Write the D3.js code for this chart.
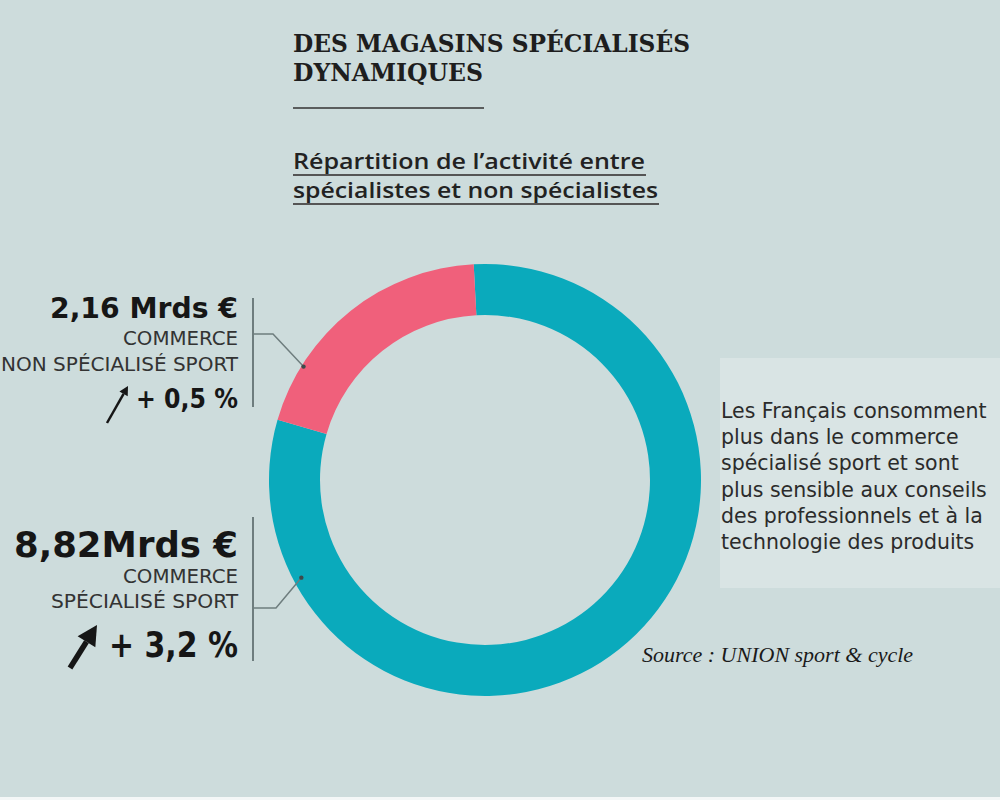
<!DOCTYPE html>
<html>
<head>
<meta charset="utf-8">
<script src="https://d3js.org/d3.v7.min.js"></script>
<style>
  body { margin: 0; background: #cddcdc; }
  svg { display: block; }
</style>
</head>
<body>
<div id="chart"></div>
<script>
// data
var segments = ["COMMERCE SPÉCIALISÉ SPORT", "COMMERCE NON SPÉCIALISÉ SPORT"];
var amounts = [8.82, 2.16];
var amountLabels = ["8,82Mrds €", "2,16 Mrds €"];
var growthLabels = ["+ 3,2 %", "+ 0,5 %"];
var labelLines = [["COMMERCE", "SPÉCIALISÉ SPORT"], ["COMMERCE", "NON SPÉCIALISÉ SPORT"]];
var colors = ["#0aaabc", "#f0607b"];

var noteLines = ["Les Français consomment", "plus dans le commerce", "spécialisé sport et sont",
  "plus sensible aux conseils", "des professionnels et à la", "technologie des produits"];

var width = 1000, height = 800;
var cx = 485, cy = 480, outerR = 216, innerR = 165;

var svg = d3.select("#chart").append("svg")
  .attr("width", width).attr("height", height);

svg.append("rect").attr("width", width).attr("height", height).attr("fill", "#cddcdc");
svg.append("rect").attr("x", 0).attr("y", 797).attr("width", width).attr("height", 3).attr("fill", "#f4f7f7");

// title
svg.append("text").attr("x", 293).attr("y", 52)
  .style("font-family", "DejaVu Serif Condensed, DejaVu Serif").style("font-weight", "bold")
  .style("font-size", "24px").attr("fill", "#1e1e1e")
  .attr("textLength", 397).attr("lengthAdjust", "spacingAndGlyphs")
  .text("DES MAGASINS SPÉCIALISÉS");
svg.append("text").attr("x", 293).attr("y", 81)
  .style("font-family", "DejaVu Serif Condensed, DejaVu Serif").style("font-weight", "bold")
  .style("font-size", "24px").attr("fill", "#1e1e1e")
  .attr("textLength", 190).attr("lengthAdjust", "spacingAndGlyphs")
  .text("DYNAMIQUES");
svg.append("line").attr("x1", 293).attr("x2", 484).attr("y1", 108).attr("y2", 108)
  .attr("stroke", "#333").attr("stroke-width", 1.5);

// subtitle
var sub = [["Répartition de l’activité entre", 169, 352], ["spécialistes et non spécialistes", 198, 365]];
sub.forEach(function(s) {
  svg.append("text").attr("x", 293).attr("y", s[1])
    .style("font-family", "Open Sans").style("font-weight", 600)
    .style("font-size", "22px").attr("fill", "#222")
    .attr("textLength", s[2]).attr("lengthAdjust", "spacingAndGlyphs")
    .text(s[0]);
  svg.append("line").attr("x1", 293).attr("x2", 293 + s[2] + 1)
    .attr("y1", s[1] + 6).attr("y2", s[1] + 6)
    .attr("stroke", "#555").attr("stroke-width", 2);
});

// donut
var pie = d3.pie().sort(null)
  .startAngle(-3 * Math.PI / 180)
  .endAngle(-3 * Math.PI / 180 + 2 * Math.PI);
var arc = d3.arc().innerRadius(innerR).outerRadius(outerR);
var arcs = pie(amounts);

var g = svg.append("g").attr("transform", "translate(" + cx + "," + cy + ")");
g.selectAll("path").data(arcs).enter().append("path")
  .attr("d", arc)
  .attr("fill", function(d, i) { return colors[i]; });

// leader lines and labels
var callouts = [
  { bar: [517, 661], elbowY: 608, elbowX: 276, angle: 242, dotR: 208 },
  { bar: [298, 407], elbowY: 334, elbowX: 273, angle: 302, dotR: 214 }
];
var textLayout = [
  { amountY: 557, amountSize: 35, amountW: 224,
    lineY: [583, 608], lineSize: 19, lineW: [115, 187],
    growthY: 657, growthSize: 35, growthW: 129,
    arrow: [70, 668, 97, 625], arrowW: 5.5 },
  { amountY: 318, amountSize: 28, amountW: 188,
    lineY: [345, 371], lineSize: 19, lineW: [115, 237],
    growthY: 408, growthSize: 27, growthW: 102,
    arrow: [107, 423, 128, 386], arrowW: 2.5 }
];

var lineColor = "#6e7d7e";
var labelFont = "DejaVu Sans Condensed, DejaVu Sans";
arcs.forEach(function(d, i) {
  var c = callouts[i];
  var a = c.angle * Math.PI / 180;
  var px = cx + Math.sin(a) * c.dotR;
  var py = cy - Math.cos(a) * c.dotR;

  svg.append("line").attr("x1", 253).attr("x2", 253).attr("y1", c.bar[0]).attr("y2", c.bar[1])
    .attr("stroke", lineColor).attr("stroke-width", 2);
  svg.append("polyline")
    .attr("points", [[253, c.elbowY], [c.elbowX, c.elbowY], [px, py]].join(" "))
    .attr("fill", "none").attr("stroke", lineColor).attr("stroke-width", 1.5);
  svg.append("circle").attr("cx", px).attr("cy", py).attr("r", 2.2).attr("fill", "#3d4a4b");

  var t = textLayout[i];
  svg.append("text").attr("x", 238).attr("y", t.amountY)
    .attr("text-anchor", "end")
    .style("font-family", labelFont).style("font-weight", "bold")
    .style("font-size", t.amountSize + "px").attr("fill", "#161616")
    .attr("textLength", t.amountW).attr("lengthAdjust", "spacingAndGlyphs")
    .text(amountLabels[i]);
  labelLines[i].forEach(function(l, j) {
    svg.append("text").attr("x", 238).attr("y", t.lineY[j])
      .attr("text-anchor", "end")
      .style("font-family", labelFont)
      .style("font-size", t.lineSize + "px").attr("fill", "#333")
      .attr("textLength", t.lineW[j]).attr("lengthAdjust", "spacingAndGlyphs")
      .text(l);
  });
  svg.append("text").attr("x", 238).attr("y", t.growthY)
    .attr("text-anchor", "end")
    .style("font-family", labelFont).style("font-weight", "bold")
    .style("font-size", t.growthSize + "px").attr("fill", "#161616")
    .attr("textLength", t.growthW).attr("lengthAdjust", "spacingAndGlyphs")
    .text(growthLabels[i]);

  // arrow
  var ar = t.arrow;
  var ang = Math.atan2(ar[3] - ar[1], ar[2] - ar[0]);
  var hl = t.arrowW * 3.6, hw = t.arrowW * 1.9;
  var bx = ar[2] - Math.cos(ang) * hl, by = ar[3] - Math.sin(ang) * hl;
  svg.append("line").attr("x1", ar[0]).attr("y1", ar[1]).attr("x2", bx).attr("y2", by)
    .attr("stroke", "#161616").attr("stroke-width", t.arrowW);
  svg.append("path")
    .attr("d", "M" + ar[2] + "," + ar[3] +
      "L" + (bx - Math.sin(ang) * hw) + "," + (by + Math.cos(ang) * hw) +
      "L" + (bx + Math.sin(ang) * hw) + "," + (by - Math.cos(ang) * hw) + "Z")
    .attr("fill", "#161616");
});

// note box
svg.append("rect").attr("x", 720).attr("y", 358).attr("width", 280).attr("height", 230)
  .attr("fill", "#d9e4e4");
noteLines.forEach(function(l, i) {
  svg.append("text").attr("x", 721).attr("y", 418 + i * 26.2)
    .style("font-family", "DejaVu Sans").style("font-size", "20.5px")
    .attr("fill", "#2b2b2b").text(l);
});

// source
svg.append("text").attr("x", 642).attr("y", 662)
  .style("font-family", "Liberation Serif").style("font-style", "italic")
  .style("font-size", "22px").attr("fill", "#1a1a1a")
  .text("Source : UNION sport & cycle");
</script>
</body>
</html>
